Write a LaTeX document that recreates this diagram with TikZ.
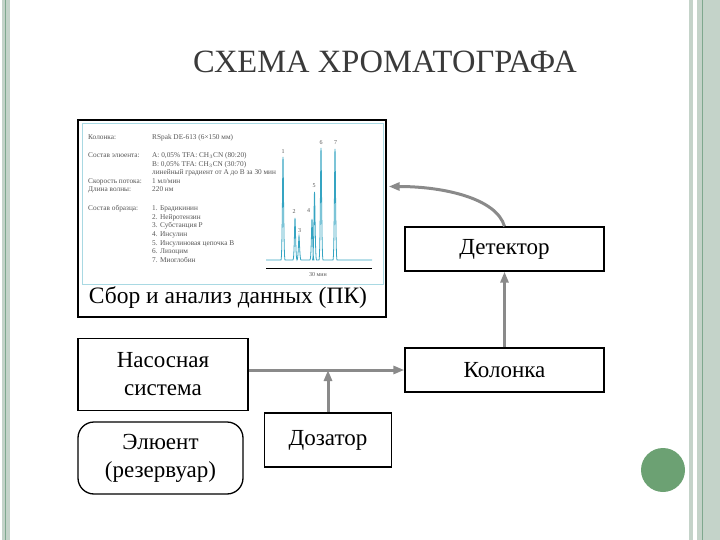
\documentclass[tikz,border=0pt]{standalone}
\usepackage{fontspec}
\setmainfont{Liberation Serif}
\usetikzlibrary{arrows.meta,positioning,calc}
\definecolor{flow}{HTML}{8A8A8A}
\definecolor{rim}{HTML}{C4D3C9}
\definecolor{rimline}{HTML}{7FA88E}
\definecolor{dot}{HTML}{6CA173}
\definecolor{panel}{HTML}{A9D9E3}
\definecolor{trace}{HTML}{35A4C2}
\definecolor{note}{HTML}{555555}
\definecolor{headgray}{HTML}{3A3A3A}

\begin{document}
\begin{tikzpicture}[x=1pt,y=-1pt,
  block/.style={draw,line width=1.3pt,inner sep=0pt,align=center,font=\fontsize{23}{28}\selectfont},
  flowline/.style={draw=flow,line width=3pt,-{Triangle[length=11pt,width=8pt]}},
  info/.style={anchor=base west,inner sep=0pt,text=note,font=\fontsize{7.3}{8}\selectfont},
  peaklab/.style={inner sep=0pt,text=note,font=\fontsize{6}{6}\selectfont}]
\useasboundingbox (0,0) rectangle (720,540);
% slide frame
\fill[rim] (2,0) rectangle (10,540);
\draw[rimline,line width=1pt] (5,0) -- (5,540);
\fill[rim] (689,0) rectangle (693,540);
\fill[rim] (697,0) rectangle (720,540);
\draw[rimline,line width=1pt] (702,0) -- (702,540);
\fill[dot] (663,470) circle (22pt);
\node[text=headgray,font=\fontsize{32.5}{34}\selectfont] (title) at (385,62) {СХЕМА ХРОМАТОГРАФА};
% blocks
\node[block,minimum width=308pt,minimum height=197pt] (pc) at (232,218.5) {};
\draw[panel,line width=1pt] (82,124) rectangle (383,284);
\node[font=\fontsize{23.5}{26}\selectfont,inner sep=0pt] (pclab) at (228,298) {Сбор и анализ данных (ПК)};
\node[block,minimum width=199pt,minimum height=44pt] (det) at (504.5,249) {Детектор};
\node[block,minimum width=199pt,minimum height=44pt] (col) at (504.5,370) {Колонка};
\node[block,minimum width=170pt,minimum height=72pt] (pump) at (163,374.5) {Насосная\\система};
\node[block,rounded corners=16pt,minimum width=165pt,minimum height=72pt] (elu) at (160.5,458) {Элюент\\(резервуар)};
\node[block,minimum width=127pt,minimum height=54pt] (doz) at (328,440) {Дозатор};
% flow
\draw[flowline] (pump.east |- col.west) -- (col.west);
\draw[flowline] (doz.north) -- (doz.north |- col.west);
\draw[flowline] (col.north) -- (det.south);
\coordinate (pcin) at ($(pc.east)+(2,-32)$);
\draw[flowline] (det.north) .. controls ($(det.north)+(-8,-28)$) and ($(pcin)+(55,0)$) .. (pcin);
% chromatogram
\draw[black,line width=0.6pt] (266,268) -- (372,268);
\node[peaklab] (tlab) at (318,275) {30 мин};
\draw[trace,line width=0.8pt] (266,260) \foreach \c/\t in {283/157,295/218,299/236,312/219,314.5/192,321/148,335/149} { -- (\c-2,260) .. controls (\c-0.7,260) and (\c-0.4,\t) .. (\c,\t) .. controls (\c+0.4,\t) and (\c+0.7,260) .. (\c+2,260)} -- (372,260);
\foreach \n/\px/\py in {1/283/152,2/294/212,3/299.5/231,4/308.5/211,5/314/186,6/321/143,7/335.5/143}
  \node[peaklab] (pk\n) at (\px,\py) {\n};
% method notes
\node[info] (kol) at (88,140) {Колонка:};
\node[info] (kolv) at (152,140) {RSpak DE-613 (6×150 мм)};
\node[info] (eluent) at (88,158) {Состав элюента:};
\node[info] (eluA) at (152,158) {A: 0,05\% TFA: CH$_3$CN (80:20)};
\node[info] (eluB) at (152,166.5) {B: 0,05\% TFA: CH$_3$CN (30:70)};
\node[info] (grad) at (152,175) {линейный градиент от A до B за 30 мин};
\node[info] (rate) at (88,183.5) {Скорость потока:};
\node[info] (ratev) at (152,183.5) {1 мл/мин};
\node[info] (wave) at (88,192) {Длина волны:};
\node[info] (wavev) at (152,192) {220 нм};
\node[info] (samp) at (88,211) {Состав образца:};
\foreach \i/\s in {1/Брадикинин,2/Нейротензин,3/Субстанция P,4/Инсулин,5/Инсулиновая цепочка B,6/Лизоцим,7/Миоглобин}
  \node[info] (samp\i) at (152,{211+8.5*(\i-1)}) {\i. \s};
\end{tikzpicture}
\end{document}
